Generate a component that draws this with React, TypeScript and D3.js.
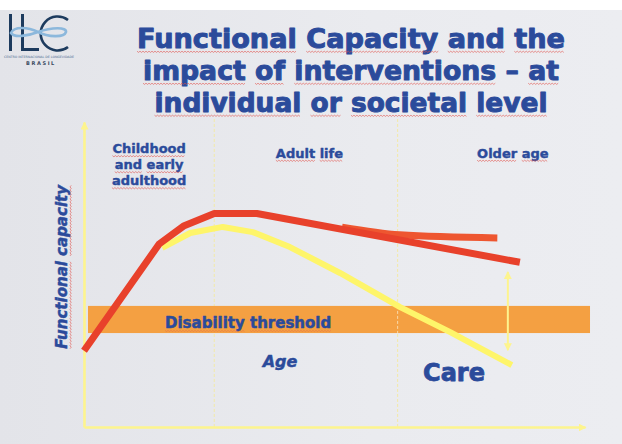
import { useEffect, useRef } from 'react';
import * as d3 from 'd3';

const titleLines = ['Functional Capacity and the', 'impact of interventions – at', 'individual or societal level'];
const titleWidths = [428, 416, 393];

const stageLabels = [['Childhood', 'and early', 'adulthood'], ['Adult life'], ['Older age']];
const stageAges = [13, 45, 85.6];
const stageDividers = [26, 62.6];

// main trajectory (red)
const baselineAges = [0, 15, 20, 26, 34.5, 87];
const baselineCapacity = [25, 60, 66, 70, 70, 54];

// trajectory with intervention (orange)
const interventionAges = [51.5, 63, 82.5];
const interventionCapacity = [65.5, 63, 62];

// declining trajectory (yellow)
const declineAges = [15.6, 21.2, 27.7, 33.7, 41.1, 51.1, 63.1, 73.1, 85.4];
const declineCapacity = [58.7, 63.6, 65.6, 63.9, 59, 50.5, 39.3, 31.1, 20.3];

const thresholdAges = [0.8, 101];
const thresholdCapacity = [30.8, 39.7];

const careGapAge = 84.6;
const careGapCapacity = [25.2, 50.8];

const BLUE = '#2b4b9b';
const FONT = "'DejaVu Sans', Verdana, sans-serif";

function squiggles(g: any, node: SVGTextElement, offset = 3, opacity = 0.75) {
  const str = node.textContent || '';
  const re = /[A-Za-z]+/g;
  let m: RegExpExecArray | null;
  while ((m = re.exec(str))) {
    const a = node.getStartPositionOfChar(m.index);
    const b = node.getEndPositionOfChar(m.index + m[0].length - 1);
    const y = a.y + offset;
    let d = `M${a.x},${y}`;
    let up = true;
    for (let x = a.x + 1.5; x <= b.x; x += 1.5) {
      d += `L${x},${up ? y + 1.2 : y}`;
      up = !up;
    }
    g.append('path')
      .attr('d', d)
      .attr('fill', 'none')
      .attr('stroke', '#e0504a')
      .attr('stroke-width', 0.8)
      .attr('opacity', opacity);
  }
}

export default function App() {
  const svgRef = useRef<SVGSVGElement>(null);

  useEffect(() => {
    if (!svgRef.current) return;
    const width = 622;
    const height = 444;

    d3.select(svgRef.current).selectAll('*').remove();
    const svg = d3.select(svgRef.current).attr('width', width).attr('height', height);

    const defs = svg.append('defs');
    const grad = defs.append('linearGradient').attr('id', 'bg').attr('x1', 0).attr('x2', 1).attr('y1', 0).attr('y2', 0);
    grad.append('stop').attr('offset', '0%').attr('stop-color', '#e3e4e9');
    grad.append('stop').attr('offset', '60%').attr('stop-color', '#eaebef');
    grad.append('stop').attr('offset', '100%').attr('stop-color', '#ecedf1');

    defs
      .append('marker')
      .attr('id', 'arrow')
      .attr('viewBox', '0 0 8 8')
      .attr('refX', 7)
      .attr('refY', 4)
      .attr('markerUnits', 'userSpaceOnUse')
      .attr('markerWidth', 8)
      .attr('markerHeight', 8)
      .attr('orient', 'auto-start-reverse')
      .append('path')
      .attr('d', 'M0,0L8,4L0,8Z')
      .attr('fill', '#fdf48e');

    // background
    svg.append('rect').attr('width', width).attr('height', height).attr('fill', '#ffffff');
    svg.append('rect').attr('y', 10).attr('width', width).attr('height', height - 10).attr('fill', 'url(#bg)');

    // logo
    const logo = svg.append('g');
    const navy = '#1d3b5e';
    logo.append('rect').attr('x', 9).attr('y', 14).attr('width', 3).attr('height', 37).attr('fill', navy);
    logo.append('rect').attr('x', 21).attr('y', 14).attr('width', 3).attr('height', 37).attr('fill', navy);
    logo.append('rect').attr('x', 21).attr('y', 48).attr('width', 18).attr('height', 3).attr('fill', navy);
    logo
      .append('path')
      .attr('d', 'M68,20 A17,17 0 1 0 68,47')
      .attr('fill', 'none')
      .attr('stroke', navy)
      .attr('stroke-width', 2.6);
    logo
      .append('path')
      .attr('d', 'M11,33 C14,26 28,27 38,32 C48,37 64,38 66,32 C67,27 52,27 38,32 C28,36 14,38 11,33 Z')
      .attr('fill', 'none')
      .attr('stroke', '#8cb8dc')
      .attr('stroke-width', 2.6);
    logo
      .append('text')
      .attr('x', 39)
      .attr('y', 57.5)
      .attr('text-anchor', 'middle')
      .attr('font-family', FONT)
      .attr('font-size', 3.2)
      .attr('fill', '#4a6a90')
      .text('CENTRO INTERNACIONAL DE LONGEVIDADE');
    logo
      .append('text')
      .attr('x', 41)
      .attr('y', 65)
      .attr('text-anchor', 'middle')
      .attr('font-family', FONT)
      .attr('font-weight', 'bold')
      .attr('font-size', 5)
      .attr('letter-spacing', 1.6)
      .attr('fill', '#3a4a60')
      .text('BRASIL');

    // title
    const title = svg.append('g');
    titleLines.forEach((line, i) => {
      const t = title
        .append('text')
        .attr('x', 351)
        .attr('y', 48 + i * 32)
        .attr('text-anchor', 'middle')
        .attr('font-family', FONT)
        .attr('font-weight', 'bold')
        .attr('font-size', 27)
        .attr('fill', BLUE)
        .attr('stroke', BLUE)
        .attr('stroke-width', 1)
        .attr('stroke-linejoin', 'round')
        .attr('textLength', titleWidths[i])
        .attr('lengthAdjust', 'spacingAndGlyphs')
        .text(line);
      squiggles(title, t.node() as SVGTextElement, 3.2);
    });

    // scales
    const xScale = d3.scaleLinear().domain([0, 100]).range([84, 585]);
    const yScale = d3.scaleLinear().domain([0, 100]).range([427, 122]);

    // life stage dividers
    svg
      .selectAll('line.divider')
      .data(stageDividers)
      .enter()
      .append('line')
      .attr('class', 'divider')
      .attr('x1', (d) => xScale(d))
      .attr('x2', (d) => xScale(d))
      .attr('y1', yScale(101))
      .attr('y2', yScale(0))
      .attr('stroke', '#f3e9a6')
      .attr('stroke-width', 1)
      .attr('stroke-dasharray', '3,2');

    // disability threshold band
    svg
      .append('rect')
      .attr('x', xScale(thresholdAges[0]))
      .attr('width', xScale(thresholdAges[1]) - xScale(thresholdAges[0]))
      .attr('y', yScale(thresholdCapacity[1]))
      .attr('height', yScale(thresholdCapacity[0]) - yScale(thresholdCapacity[1]))
      .attr('fill', '#f4a042');

    // divider over band
    svg
      .append('line')
      .attr('x1', xScale(stageDividers[1]))
      .attr('x2', xScale(stageDividers[1]))
      .attr('y1', yScale(thresholdCapacity[1]))
      .attr('y2', yScale(thresholdCapacity[0]))
      .attr('stroke', '#f8d9a8')
      .attr('stroke-width', 1)
      .attr('stroke-dasharray', '3,2');

    const heavy = (sel: any, w: number) =>
      sel.attr('stroke', BLUE).attr('stroke-width', w).attr('stroke-linejoin', 'round');

    const thr = svg
      .append('text')
      .attr('x', 165)
      .attr('y', yScale(32.5))
      .attr('font-family', FONT)
      .attr('font-weight', 'bold')
      .attr('font-size', 15)
      .attr('fill', BLUE)
      .text('Disability threshold');
    heavy(thr, 0.5);
    squiggles(svg, thr.node() as SVGTextElement, 2.5, 0.4);

    // axes
    const xAxis = svg
      .append('g')
      .attr('transform', `translate(0, ${yScale(0)})`)
      .call(d3.axisBottom(xScale).tickValues([]).tickSizeOuter(0));
    const yAxis = svg
      .append('g')
      .attr('transform', `translate(${xScale(0)}, 0)`)
      .call(d3.axisLeft(yScale).tickValues([]).tickSizeOuter(0));
    [xAxis, yAxis].forEach((a) =>
      a
        .select('.domain')
        .attr('stroke', '#fdf48e')
        .attr('stroke-width', 2.6)
        .attr('marker-end', 'url(#arrow)')
    );

    const line = d3
      .line<[number, number]>()
      .x((d) => xScale(d[0]))
      .y((d) => yScale(d[1]));

    svg
      .append('path')
      .datum(d3.zip(declineAges, declineCapacity) as [number, number][])
      .attr('d', line)
      .attr('fill', 'none')
      .attr('stroke', '#fef56a')
      .attr('stroke-width', 6)
      .attr('stroke-linejoin', 'round');

    svg
      .append('path')
      .datum(d3.zip(interventionAges, interventionCapacity) as [number, number][])
      .attr('d', line.curve(d3.curveMonotoneX))
      .attr('fill', 'none')
      .attr('stroke', '#ee5630')
      .attr('stroke-width', 7);

    svg
      .append('path')
      .datum(d3.zip(baselineAges, baselineCapacity) as [number, number][])
      .attr('d', line.curve(d3.curveLinear))
      .attr('fill', 'none')
      .attr('stroke', '#e8412b')
      .attr('stroke-width', 7)
      .attr('stroke-linejoin', 'round');

    // care gap arrow
    svg
      .append('line')
      .attr('x1', xScale(careGapAge))
      .attr('x2', xScale(careGapAge))
      .attr('y1', yScale(careGapCapacity[0]))
      .attr('y2', yScale(careGapCapacity[1]))
      .attr('stroke', '#fdf48e')
      .attr('stroke-width', 2)
      .attr('marker-start', 'url(#arrow)')
      .attr('marker-end', 'url(#arrow)');

    // stage labels
    stageLabels.forEach((lines, i) => {
      lines.forEach((txt, j) => {
        const t = svg
          .append('text')
          .attr('x', xScale(stageAges[i]))
          .attr('y', (i === 0 ? yScale(89.8) : yScale(88.3)) + j * 16)
          .attr('text-anchor', 'middle')
          .attr('font-family', FONT)
          .attr('font-weight', 'bold')
          .attr('font-size', 13)
          .attr('fill', BLUE)
          .text(txt);
        heavy(t, 0.4);
        squiggles(svg, t.node() as SVGTextElement, 2.5);
      });
    });

    // axis titles
    const yTitle = svg.append('g').attr('transform', `translate(67, ${yScale(52.5)}) rotate(-90)`);
    const yt = yTitle
      .append('text')
      .attr('text-anchor', 'middle')
      .attr('font-family', FONT)
      .attr('font-weight', 'bold')
      .attr('font-style', 'italic')
      .attr('font-size', 15)
      .attr('fill', BLUE)
      .text('Functional capacity');
    heavy(yt, 0.5);
    squiggles(yTitle, yt.node() as SVGTextElement, 3);

    const age = svg
      .append('text')
      .attr('x', 280)
      .attr('y', yScale(19.7))
      .attr('text-anchor', 'middle')
      .attr('font-family', FONT)
      .attr('font-weight', 'bold')
      .attr('font-style', 'italic')
      .attr('font-size', 16)
      .attr('fill', BLUE)
      .text('Age');
    heavy(age, 0.5);

    const care = svg
      .append('text')
      .attr('x', 454)
      .attr('y', yScale(15))
      .attr('text-anchor', 'middle')
      .attr('font-family', FONT)
      .attr('font-weight', 'bold')
      .attr('font-size', 24)
      .attr('fill', BLUE)
      .text('Care');
    heavy(care, 0.8);
  }, []);

  return <svg ref={svgRef} style={{ position: 'absolute', left: 0, top: 0 }} />;
}
